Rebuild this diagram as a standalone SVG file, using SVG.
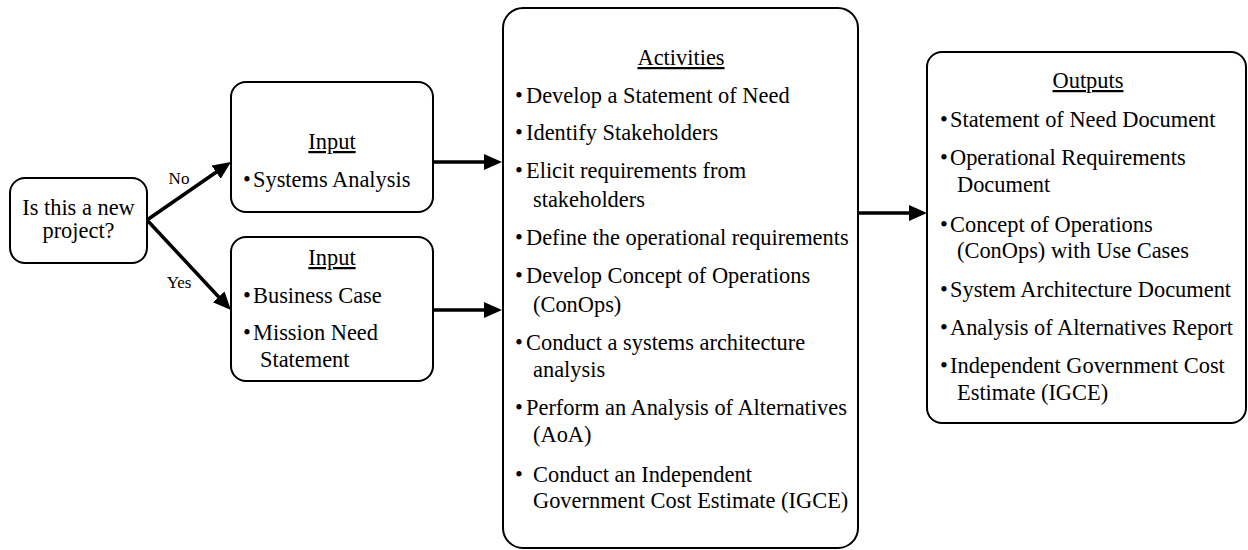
<svg xmlns="http://www.w3.org/2000/svg" width="1248" height="550" viewBox="0 0 1248 550">
<style>
.box{fill:#fff;stroke:#000;stroke-width:2}
.t{font-family:"Liberation Serif","Times New Roman",serif;font-size:22.4px;fill:#000}
.s{font-family:"Liberation Serif","Times New Roman",serif;font-size:17px;fill:#000}
.c{text-anchor:middle}
.u{text-decoration:underline}
.conn{stroke:#000;stroke-width:3.5;fill:none;marker-end:url(#ah)}
</style>
<defs>
<marker id="ah" markerUnits="userSpaceOnUse" markerWidth="20" markerHeight="18" refX="10" refY="8" orient="auto">
<path d="M0,0 L18,8 L0,16 Z" fill="#000"/>
</marker>
</defs>
<rect width="1248" height="550" fill="#fff"/>
<g id="connectors">
<line class="conn" x1="147" y1="220" x2="224.4" y2="166.5"/>
<line class="conn" x1="147" y1="220" x2="225.5" y2="304.2"/>
<line class="conn" x1="433" y1="162" x2="494" y2="162"/>
<line class="conn" x1="433" y1="310" x2="494" y2="310"/>
<line class="conn" x1="858" y1="213" x2="919" y2="213"/>
<text class="s c" x="179" y="184">No</text>
<text class="s c" x="179" y="288">Yes</text>
</g>
<g id="decision">
<rect class="box" x="10" y="178" width="137" height="85" rx="15"/>
<text class="t c" x="78.5" y="215">Is this a new</text>
<text class="t c" x="78.5" y="238">project?</text>
</g>
<g id="input1">
<rect class="box" x="231" y="82" width="202" height="130" rx="15"/>
<text class="t c u" x="332" y="149">Input</text>
<text class="t" x="243" y="187">•</text><text class="t" x="253" y="187">Systems Analysis</text>
</g>
<g id="input2">
<rect class="box" x="231" y="237" width="202" height="144" rx="15"/>
<text class="t c u" x="332" y="265">Input</text>
<text class="t" x="243" y="303">•</text><text class="t" x="253" y="303">Business Case</text>
<text class="t" x="243" y="340">•</text><text class="t" x="253" y="340">Mission Need</text>
<text class="t" x="260" y="367">Statement</text>
</g>
<g id="activities">
<rect class="box" x="503" y="8" width="355" height="540" rx="20"/>
<text class="t c u" x="681" y="65">Activities</text>
<text class="t" x="515" y="103">•</text><text class="t" x="526" y="103">Develop a Statement of Need</text>
<text class="t" x="515" y="140">•</text><text class="t" x="526" y="140">Identify Stakeholders</text>
<text class="t" x="515" y="178">•</text><text class="t" x="526" y="178">Elicit requirements from</text>
<text class="t" x="533" y="207">stakeholders</text>
<text class="t" x="515" y="245">•</text><text class="t" x="526" y="245">Define the operational requirements</text>
<text class="t" x="515" y="283">•</text><text class="t" x="526" y="283">Develop Concept of Operations</text>
<text class="t" x="533" y="312">(ConOps)</text>
<text class="t" x="515" y="350">•</text><text class="t" x="526" y="350">Conduct a systems architecture</text>
<text class="t" x="533" y="377">analysis</text>
<text class="t" x="515" y="415">•</text><text class="t" x="526" y="415">Perform an Analysis of Alternatives</text>
<text class="t" x="533" y="442">(AoA)</text>
<text class="t" x="515" y="482">•</text><text class="t" x="533" y="482">Conduct an Independent</text>
<text class="t" x="533" y="508">Government Cost Estimate (IGCE)</text>
</g>
<g id="outputs">
<rect class="box" x="927" y="52" width="319" height="371" rx="15"/>
<text class="t c u" x="1088" y="88">Outputs</text>
<text class="t" x="940" y="127">•</text><text class="t" x="950" y="127">Statement of Need Document</text>
<text class="t" x="940" y="165">•</text><text class="t" x="950" y="165">Operational Requirements</text>
<text class="t" x="957" y="192">Document</text>
<text class="t" x="940" y="232">•</text><text class="t" x="950" y="232">Concept of Operations</text>
<text class="t" x="957" y="258">(ConOps) with Use Cases</text>
<text class="t" x="940" y="297">•</text><text class="t" x="950" y="297">System Architecture Document</text>
<text class="t" x="940" y="335">•</text><text class="t" x="950" y="335">Analysis of Alternatives Report</text>
<text class="t" x="940" y="373">•</text><text class="t" x="950" y="373">Independent Government Cost</text>
<text class="t" x="957" y="400">Estimate (IGCE)</text>
</g>
</svg>
